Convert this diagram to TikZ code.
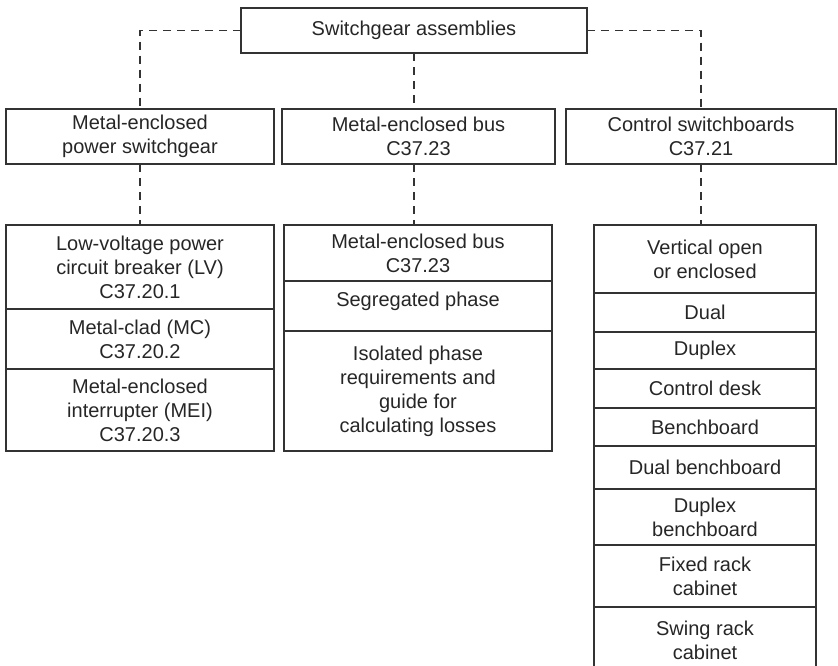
\documentclass[tikz,border=0pt]{standalone}
\usepackage{fontspec}
\setmainfont{Liberation Sans}
\usetikzlibrary{positioning}
\definecolor{inkgray}{HTML}{262626}
\definecolor{rulegray}{HTML}{333333}

\begin{document}
\begin{tikzpicture}[
  x=1pt, y=-1pt,
  cell/.style={draw=rulegray, line width=1.2pt, rectangle, align=center,
    inner sep=0pt, outer sep=0pt, text=inkgray,
    font=\fontsize{20}{24}\selectfont},
  link/.style={draw=rulegray, line width=1.1pt, dash pattern=on 8pt off 6pt}
]
\useasboundingbox (0,0) rectangle (838,665);
\clip (0,0) rectangle (838,665);

% --- column centres
\def\xL{140}
\def\xM{418}
\def\xR{705}

% --- root
\node[cell, minimum width=346pt, minimum height=45pt] (sga) at (414,30.5)
  {Switchgear assemblies};

% --- second level
\node[cell, minimum width=268pt, minimum height=55pt] (mes) at (\xL,136.5)
  {Metal-enclosed\\power switchgear};
\node[cell, minimum width=273pt, minimum height=55pt] (meb) at (418.5,136.5)
  {Metal-enclosed bus\\C37.23};
\node[cell, minimum width=270pt, minimum height=55pt] (csb) at (701,136.5)
  {Control switchboards\\C37.21};

% --- power switchgear types
\node[cell, minimum width=268pt, minimum height=84pt] (lv) at (\xL,267)
  {Low-voltage power\\circuit breaker (LV)\\C37.20.1};
\node[cell, minimum width=268pt, minimum height=60pt, below=0pt of lv] (mc)
  {Metal-clad (MC)\\C37.20.2};
\node[cell, minimum width=268pt, minimum height=82pt, below=0pt of mc] (mei)
  {Metal-enclosed\\interrupter (MEI)\\C37.20.3};

% --- bus types
\node[cell, minimum width=268pt, minimum height=56pt] (bus) at (\xM,253)
  {Metal-enclosed bus\\C37.23};
\node[cell, minimum width=268pt, minimum height=50pt, below=0pt of bus] (seg)
  {Segregated phase\\[-10pt]};
\node[cell, minimum width=268pt, minimum height=120pt, below=0pt of seg] (iso)
  {Isolated phase\\requirements and\\guide for\\calculating losses};

% --- switchboard types
\node[cell, minimum width=222pt, minimum height=68pt] (vert) at (\xR,259)
  {Vertical open\\or enclosed};
\node[cell, minimum width=222pt, minimum height=39pt, below=0pt of vert] (dual) {Dual};
\node[cell, minimum width=222pt, minimum height=37pt, below=0pt of dual] (dplx) {Duplex};
\node[cell, minimum width=222pt, minimum height=39pt, below=0pt of dplx] (desk) {Control desk};
\node[cell, minimum width=222pt, minimum height=38pt, below=0pt of desk] (bench) {Benchboard};
\node[cell, minimum width=222pt, minimum height=43pt, below=0pt of bench] (dbench) {Dual benchboard};
\node[cell, minimum width=222pt, minimum height=56pt, below=0pt of dbench] (xbench)
  {Duplex\\benchboard};
\node[cell, minimum width=222pt, minimum height=62pt, below=0pt of xbench] (fixed)
  {Fixed rack\\cabinet};
\node[cell, minimum width=222pt, minimum height=66pt, below=0pt of fixed] (swing)
  {Swing rack\\cabinet};

% --- dashed tree links
\draw[link] (sga.west) -| (mes.north);
\draw[link] (sga.east) -| (csb.north);
\draw[link] (sga.south) -- (sga.south |- meb.north);
\draw[link] (mes.south) -- (lv.north);
\draw[link] (sga.south |- meb.south) -- (sga.south |- bus.north);
\draw[link] (csb.south) -- (csb.south |- vert.north);

\end{tikzpicture}
\end{document}
